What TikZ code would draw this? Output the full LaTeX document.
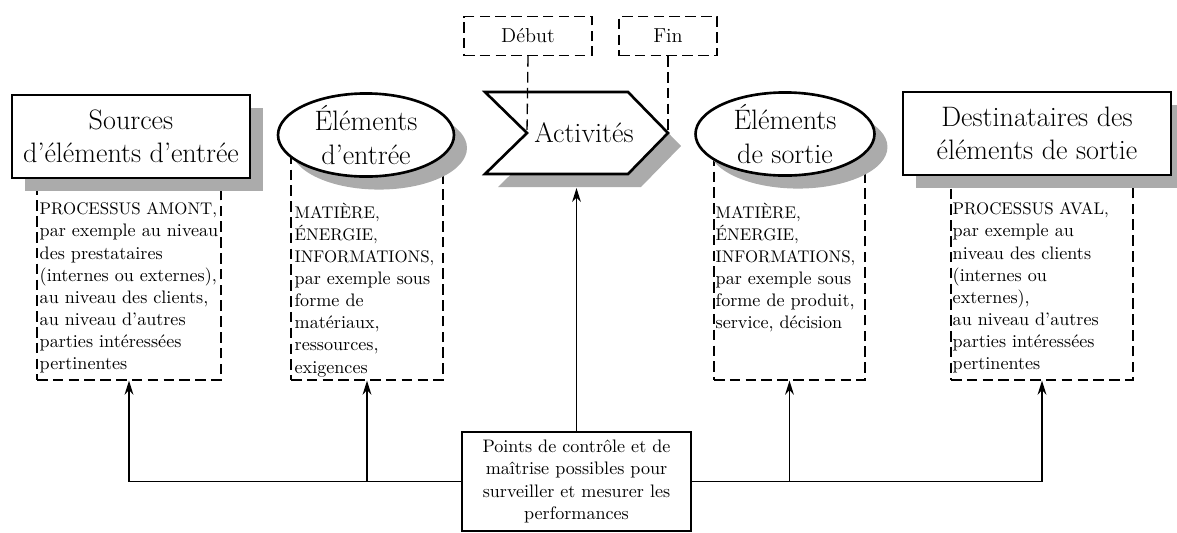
\documentclass[tikz,border=0pt]{standalone}
\usetikzlibrary{shapes.geometric,shadows,arrows.meta}
\newcommand\capsline[1]{{\fontsize{9.6}{12.6}\selectfont #1}}
\begin{document}
\begin{tikzpicture}[x=0.02cm,y=-0.02cm,>={Stealth[length=8pt,width=5pt]},
    headtext/.style={font=\fontsize{16}{19}\selectfont,align=center},
    smalltext/.style={font=\fontsize{10.3}{12.6}\selectfont},
    dashline/.style={dashed,dash pattern=on 6pt off 3pt,line width=0.75pt},
    notebox/.style={draw,dashline,minimum height=4.6cm},
    notetext/.style={smalltext,anchor=north west,inner sep=0pt,align=left},
    shadowed/.style={drop shadow={shadow xshift=0.26cm,shadow yshift=-0.26cm,fill=black!33,opacity=1}},
    bigbox/.style={draw,line width=1.5pt,fill=white,shadowed,minimum height=1.66cm,headtext},
    bigoval/.style={ellipse,draw,line width=1.5pt,fill=white,shadowed,minimum height=1.64cm,inner sep=0pt,headtext}]
  \useasboundingbox (0,0) rectangle (1177,532);

  % dashed boxes under the shapes
  \node[notebox,minimum width=3.68cm] (srcnote) at (129,265) {};
  \node[notebox,minimum width=3.04cm] (innote) at (367,265) {};
  \node[notebox,minimum width=3.02cm] (outnote) at (789.5,265) {};
  \node[notebox,minimum width=3.64cm] (dstnote) at (1042,265) {};

  \node[notetext] (srctext) at ([shift={(3,53)}]srcnote.north west)
    {\capsline{PROCESSUS AMONT,}\\par exemple au niveau\\des prestataires\\(internes ou externes),\\au niveau des clients,\\au niveau d’autres\\parties intéressées\\pertinentes};
  \node[notetext] (intext) at ([shift={(4,53)}]innote.north west)
    {\capsline{MATIÈRE,}\\\capsline{ÉNERGIE,}\\\capsline{INFORMATIONS,}\\par exemple sous\\forme de\\matériaux,\\ressources,\\exigences};
  \node[notetext] (outtext) at ([shift={(2,53)}]outnote.north west)
    {\capsline{MATIÈRE,}\\\capsline{ÉNERGIE,}\\\capsline{INFORMATIONS,}\\par exemple sous\\forme de produit,\\service, décision};
  \node[notetext] (dsttext) at ([shift={(2,53)}]dstnote.north west)
    {\capsline{PROCESSUS AVAL,}\\par exemple au\\niveau des clients\\(internes ou\\externes),\\au niveau d’autres\\parties intéressées\\pertinentes};

  % main row
  \node[bigbox,minimum width=4.76cm] (src) at (131,136.5) {Sources\\d’éléments d’entrée};
  \node[bigoval,minimum width=3.52cm] (in) at (366,135) {Éléments\\d’entrée};
  \draw[line width=1.5pt,fill=white,shadowed] (485,92) -- (628,92) -- (668,133) coordinate (tip)
    -- (628,174) -- (485,174) -- (527,133) coordinate (notch) -- cycle;
  \node[headtext] (act) at (584,133) {Activités};
  \node[bigoval,minimum width=3.58cm] (out) at (785,134) {Éléments\\de sortie};
  \node[bigbox,minimum width=5.36cm] (dst) at (1037,133.5) {Destinataires des\\éléments de sortie};
  \coordinate (actbase) at (576.5,188);

  % start and end
  \node[font=\fontsize{11.5}{13}\selectfont,draw,dashline,minimum width=2.56cm,minimum height=0.78cm] (debut) at (528,36) {Début};
  \node[font=\fontsize{11.5}{13}\selectfont,draw,dashline,minimum width=1.96cm,minimum height=0.78cm] (fin) at (668,36) {Fin};
  \draw[dashline] (debut.south) -- (notch);
  \draw[dashline] (fin.south) -- (tip);

  % control point
  \node[smalltext,draw,line width=1.5pt,align=center,minimum width=4.58cm,minimum height=1.98cm] (ctrl) at (576.5,481.5)
    {Points de contrôle et de\\maîtrise possibles pour\\surveiller et mesurer les\\performances};
  \draw[->,line width=0.75pt] (ctrl.north) -- (ctrl.north |- actbase);
  \draw[->,line width=0.75pt] (ctrl.west) -| (srcnote.south);
  \draw[->,line width=0.75pt] (innote.south |- ctrl.west) -- (innote.south);
  \draw[->,line width=0.75pt] (ctrl.east) -| (dstnote.south);
  \draw[->,line width=0.75pt] (outnote.south |- ctrl.east) -- (outnote.south);
\end{tikzpicture}
\end{document}
